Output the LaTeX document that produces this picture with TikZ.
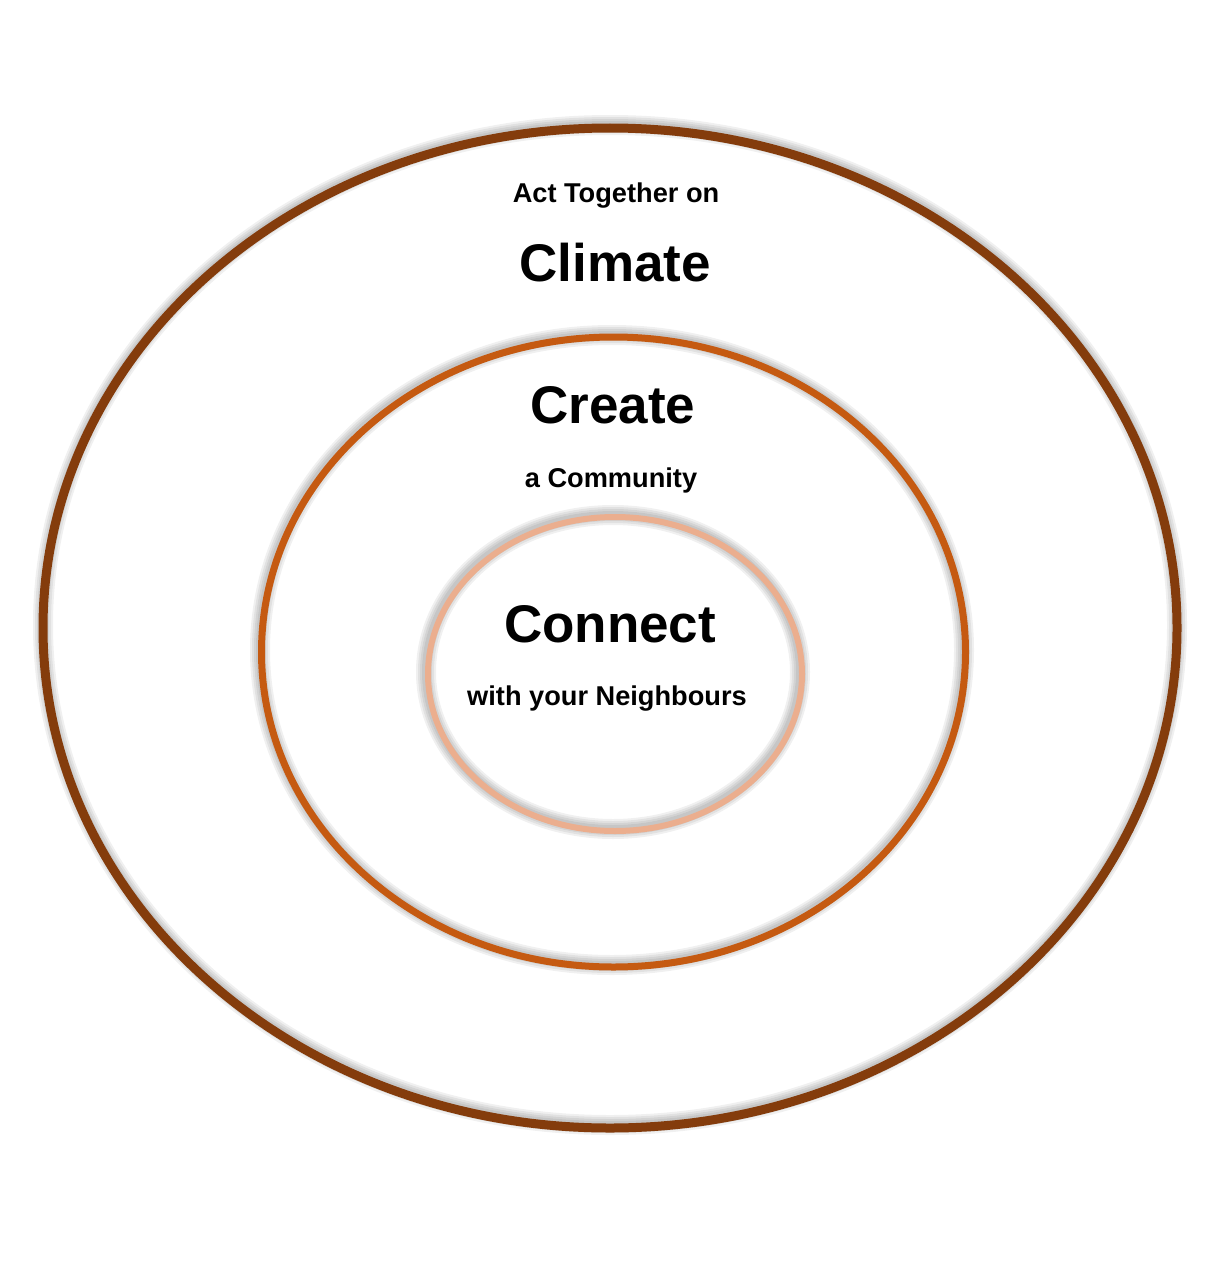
\documentclass[tikz,border=0pt]{standalone}
\usepackage{fontspec}
\setmainfont{Liberation Sans}
\definecolor{ringouter}{HTML}{843C0C}
\definecolor{ringmid}{HTML}{C55A11}
\definecolor{ringinner}{HTML}{EBAE8E}
\begin{document}
\begin{tikzpicture}[x=0.5pt,y=-0.5pt,
  big/.style={font=\bfseries\fontsize{26.5}{30}\selectfont, inner sep=0pt, anchor=base},
  small/.style={font=\bfseries\fontsize{13.6}{16}\selectfont, inner sep=0pt, anchor=base},
  shade/.style={draw=black, opacity=0.06}]
\useasboundingbox[fill=white] (0,0) rectangle (1211,1284);
% soft shadows
\foreach \w in {4,6,8,10}{
  \draw[shade, line width=\w pt] (610,625) ellipse [x radius=283.5pt, y radius=250pt];
  \draw[shade, line width=\w pt] (612,650) ellipse [x radius=176pt, y radius=157.5pt];
  \draw[shade, line width=\w pt] (613,672) ellipse [x radius=93.5pt, y radius=78.5pt];
}
% rings
\draw[ringouter, line width=4.5pt] (610,628) ellipse [x radius=283.5pt, y radius=250pt];
\draw[ringmid, line width=3.5pt] (613.5,652) ellipse [x radius=176pt, y radius=157.5pt];
\draw[ringinner, line width=3pt] (615,674) ellipse [x radius=93.5pt, y radius=78.5pt];
% texts (positions are baselines)
\node[small] (acttog) at (616,202) {Act Together on};
\node[big] (climate) at (615,281) {Climate};
\node[big] (create) at (613,423) {Create};
\node[small] (community) at (611,487) {a Community};
\node[big] (connect) at (610,642) {Connect};
\node[small] (neighbours) at (607,705) {with your Neighbours};
\end{tikzpicture}
\end{document}
